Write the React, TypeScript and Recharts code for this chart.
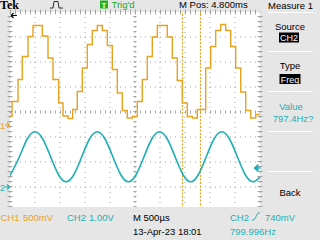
import React from 'react';
import { LineChart, Line, XAxis, YAxis, CartesianGrid, ReferenceLine } from 'recharts';

// Time axis: microseconds from left edge of graticule (500 us/div, 10 div)
const timeTicks = [0, 500, 1000, 1500, 2000, 2500, 3000, 3500, 4000, 4500, 5000];
// CH2 volts at each vertical division (1.00 V/div)
const ch2Ticks = [-1, 0, 1, 2, 3, 4, 5, 6, 7];

// CH1 (orange, stepped DAC output), 500 mV/div
const ch1Times = [0, 40, 160, 246, 360, 460, 646, 760, 860, 974, 1060, 1160, 1254, 1346, 1446, 1546, 1646, 1746, 1846, 1946, 2046, 2146, 2246, 2346, 2446, 2546, 2646, 2746, 2846, 2946, 3146, 3246, 3346, 3446, 3546, 3646, 3746, 3914, 4014, 4114, 4214, 4314, 4414, 4514, 4614, 4714, 4814, 4914, 5000];
const ch1Volts = [0.18, 0.47, 0.91, 1.37, 1.77, 1.99, 1.78, 1.34, 0.91, 0.44, 0.18, 0.13, 0.31, 0.67, 1.14, 1.61, 1.89, 1.99, 1.89, 1.59, 1.11, 0.64, 0.29, 0.14, 0.17, 0.47, 0.91, 1.37, 1.76, 1.99, 1.76, 1.34, 0.89, 0.44, 0.17, 0.14, 0.31, 1.14, 1.57, 1.89, 2.01, 1.89, 1.57, 1.14, 0.66, 0.29, 0.14, 0.21, 0.21];

// CH2 (cyan, filtered sine), 1.00 V/div
const ch2Times = [0, 188, 344, 500, 656, 812, 968, 1123, 1279, 1435, 1590, 1745, 1901, 2057, 2213, 2368, 2524, 2680, 2835, 2990, 3146, 3302, 3458, 3613, 3769, 3925, 4080, 4235, 4391, 4547, 4703, 4858, 5000];
const ch2Volts = [0.45, 1.21, 1.92, 2.21, 1.92, 1.21, 0.5, 0.21, 0.5, 1.21, 1.92, 2.21, 1.92, 1.21, 0.5, 0.21, 0.5, 1.21, 1.92, 2.21, 1.92, 1.21, 0.5, 0.21, 0.5, 1.21, 1.92, 2.21, 1.92, 1.21, 0.5, 0.21, 0.4];

// Cursor positions (us)
const cursorTimes = [3450, 3810];

const ch1Domain = [-1.74, 2.26];
const ch2Domain = [-1, 7];

const ch1Data = ch1Times.map((t, i) => ({ t, v: ch1Volts[i] }));
const ch2Data = ch2Times.map((t, i) => ({ t, v: ch2Volts[i] }));

const ORANGE = '#e8a21e';
const CYAN = '#1fb0b4';
const GRID = '#a4a4a4';
const BG = '#e6e6e6';
const FONT = '"Liberation Sans", Arial, sans-serif';

export default function App() {
  return (
    <div style={{ position: 'fixed', left: 0, top: 0, width: 320, height: 240, background: BG, overflow: 'hidden' }}>
      <div style={{ position: 'absolute', left: 0, top: 0 }}>
        <LineChart width={320} height={240} margin={{ top: 12, right: 60, bottom: 28, left: 10 }}>
          <XAxis type="number" dataKey="t" domain={[0, 5000]} ticks={timeTicks} interval={0} hide allowDataOverflow />
          <YAxis type="number" domain={ch2Domain} ticks={ch2Ticks} interval={0} hide allowDataOverflow />
          <YAxis yAxisId="ch1" type="number" domain={ch1Domain} hide allowDataOverflow />
          <CartesianGrid fill="#ffffff" stroke={GRID} strokeDasharray="1 4" />
          <ReferenceLine y={3} stroke={GRID} strokeWidth={3} strokeDasharray="1 4" ifOverflow="visible" />
          <ReferenceLine x={2500} stroke={GRID} strokeWidth={3} strokeDasharray="1 4" ifOverflow="visible" />
          <ReferenceLine y={7} stroke={GRID} strokeWidth={5} strokeDasharray="1 4" ifOverflow="visible" />
          <ReferenceLine x={0} stroke={GRID} strokeWidth={5} strokeDasharray="1 4" ifOverflow="visible" />
          <ReferenceLine x={5000} stroke={GRID} strokeWidth={5} strokeDasharray="1 4" ifOverflow="visible" />
          {cursorTimes.map((c) => (
            <ReferenceLine key={c} x={c} stroke={ORANGE} strokeWidth={1.2} strokeDasharray="2 1.5" ifOverflow="visible" />
          ))}
          <Line data={ch2Data} dataKey="v" type="natural" stroke={CYAN} strokeWidth={1.6} dot={false} isAnimationActive={false} />
          <Line yAxisId="ch1" data={ch1Data} dataKey="v" type="stepAfter" stroke={ORANGE} strokeWidth={1.4} dot={false} isAnimationActive={false} />
        </LineChart>
      </div>
      <svg width={320} height={240} style={{ position: 'absolute', left: 0, top: 0 }} fontFamily={FONT}>
        <rect x={0} y={207} width={262} height={33} fill={BG} />
        <text x={0} y={9.2} fontFamily='"Liberation Serif", "Times New Roman", serif' fontWeight="bold" fontSize={12} fill="#000">Tek</text>
        <path d="M50 8 L53 8 L54 1.5 L58 1.5 L59 8 L63 8" fill="none" stroke="#000" strokeWidth={0.8} />
        <rect x={100} y={0.5} width={8} height={8} fill="#22b022" />
        <text x={104} y={7.5} fontSize={8} fill="#fff" textAnchor="middle" fontWeight="bold">T</text>
        <text x={111.5} y={8} fontSize={9.5} fill="#22a822">Trig'd</text>
        <text x={179} y={8} fontSize={9.5} fill="#000">M Pos: 4.800ms</text>
        <text x={290.5} y={8.5} fontSize={9.5} fill="#000" textAnchor="middle">Measure 1</text>
        <path d="M11 15.5 L17 15.5 M11 15.5 L13.5 13 M11 15.5 L13.5 18" stroke="#000" strokeWidth={1.2} fill="none" />
        <text x={0} y={128.5} fontSize={9} fill={ORANGE}>1</text>
        <path d="M5 125 L9.5 125 M9.5 125 L7 122.5 M9.5 125 L7 127.5" stroke={ORANGE} strokeWidth={1.1} fill="none" />
        <text x={0} y={190.5} fontSize={9} fill={CYAN}>2</text>
        <path d="M5 187 L9.5 187 M9.5 187 L7 184.5 M9.5 187 L7 189.5" stroke={CYAN} strokeWidth={1.1} fill="none" />
        <path d="M254 168 L258 164.5 L258 171.5 Z M257 168 L261 168" fill={CYAN} stroke={CYAN} strokeWidth={1} />
        <g stroke="#ffffff" strokeWidth={1}>
          <line x1={268} y1={12.5} x2={313} y2={12.5} />
          <line x1={268} y1={51.5} x2={313} y2={51.5} />
          <line x1={268} y1={91.5} x2={313} y2={91.5} />
          <line x1={268} y1={131.5} x2={313} y2={131.5} />
          <line x1={268} y1={171.5} x2={313} y2={171.5} />
        </g>
        <text x={290} y={29.5} fontSize={9.5} fill="#000" textAnchor="middle">Source</text>
        <rect x={279} y={32.5} width={20} height={10} fill="#000" />
        <text x={289} y={41} fontSize={9} fill="#fff" textAnchor="middle">CH2</text>
        <text x={290} y={69} fontSize={9.5} fill="#000" textAnchor="middle">Type</text>
        <rect x={279.5} y={74} width={21} height={10} fill="#000" />
        <text x={290} y={82.5} fontSize={9} fill="#fff" textAnchor="middle">Freq</text>
        <text x={291} y={109.5} fontSize={9.5} fill={CYAN} textAnchor="middle">Value</text>
        <text x={293} y={121.5} fontSize={9.5} fill={CYAN} textAnchor="middle">797.4Hz?</text>
        <text x={290} y={196} fontSize={9.5} fill="#000" textAnchor="middle">Back</text>
        <text x={0.5} y={220.5} fontSize={9.5} fill={ORANGE}>CH1</text>
        <text x={23} y={220.5} fontSize={9.5} fill={ORANGE}>500mV</text>
        <text x={67} y={220.5} fontSize={9.5} fill={CYAN}>CH2</text>
        <text x={89} y={220.5} fontSize={9.5} fill={CYAN}>1.00V</text>
        <text x={133} y={220.5} fontSize={9.5} fill="#000">M 500µs</text>
        <text x={230} y={220.5} fontSize={9.5} fill={CYAN}>CH2</text>
        <path d="M252 220 L254 220 L258 213 L260 213" stroke={CYAN} strokeWidth={0.9} fill="none" />
        <text x={265} y={220.5} fontSize={9.5} fill={CYAN}>740mV</text>
        <text x={133} y={234.5} fontSize={9.5} fill="#000">13-Apr-23 18:01</text>
        <text x={230} y={234.5} fontSize={9.5} fill={CYAN}>799.996Hz</text>
      </svg>
    </div>
  );
}
